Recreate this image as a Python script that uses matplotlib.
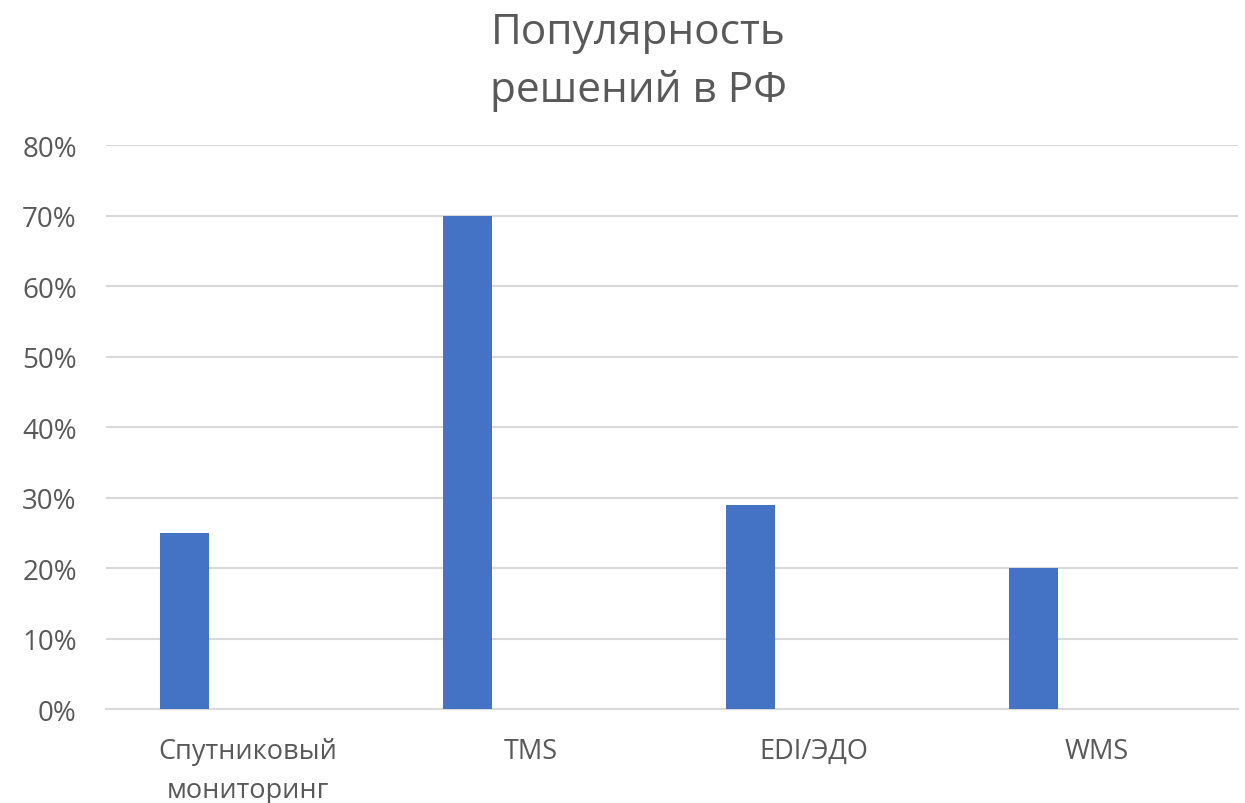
import matplotlib.pyplot as plt
from matplotlib.ticker import PercentFormatter

categories = ['Спутниковый\nмониторинг', 'TMS', 'EDI/ЭДО', 'WMS']
values = [25, 70, 29, 20]
yticks = [0, 10, 20, 30, 40, 50, 60, 70, 80]

plt.rcParams['font.family'] = ['Open Sans', 'DejaVu Sans']
grey = '#595959'

fig = plt.figure(figsize=(12.45, 8.04), dpi=100)
ax = fig.add_axes([0.0851, 0.1169, 0.9092, 0.7015])

x = range(len(categories))
ax.bar([i - 0.223 for i in x], values, width=0.173, color='#4472C4', zorder=3)

ax.set_xlim(-0.5, 3.5)
ax.set_ylim(0, 80)
ax.set_yticks(yticks)
ax.yaxis.set_major_formatter(PercentFormatter(decimals=0))
ax.set_xticks(list(x))
ax.set_xticklabels(categories, linespacing=1.55, fontsize=19.5)
ax.grid(axis='y', color='#D9D9D9', linewidth=1.5, zorder=0)
for s in ['top', 'right', 'left']:
    ax.spines[s].set_visible(False)
ax.spines['bottom'].set_color('#D9D9D9')
ax.spines['bottom'].set_linewidth(1.5)
ax.tick_params(axis='both', length=0, labelcolor=grey)
ax.tick_params(axis='y', pad=21, labelsize=20)
ax.tick_params(axis='x', pad=20)

fig.text(0.513, 0.861, 'Популярность\nрешений в РФ', ha='center', va='bottom',
         fontsize=30.5, color=grey, linespacing=1.5)

fig.savefig('out.png', dpi=100)
